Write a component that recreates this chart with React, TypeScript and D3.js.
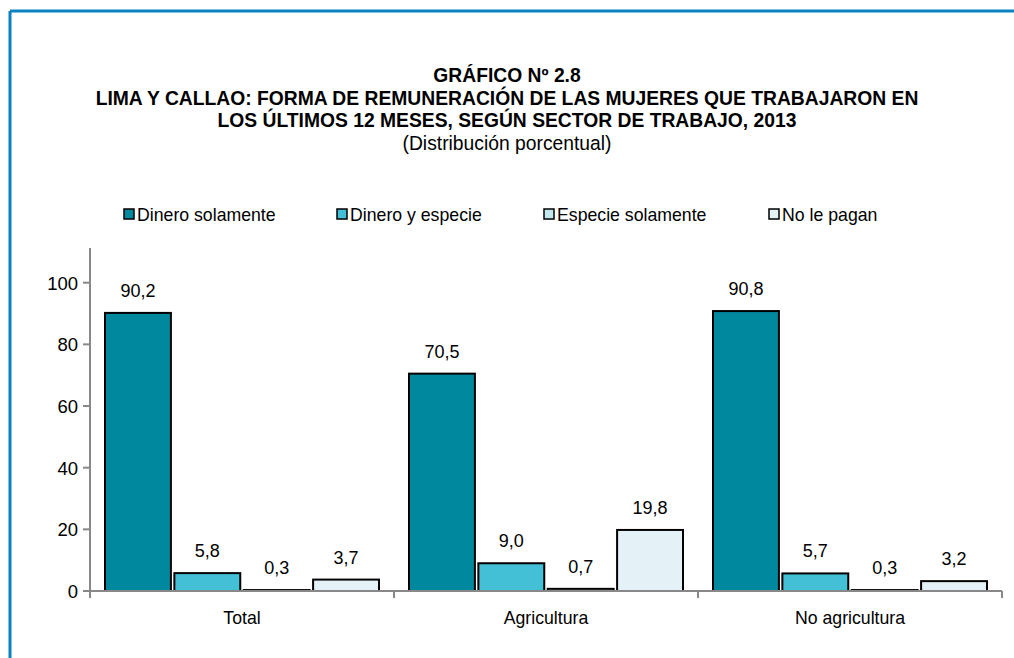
import React from "react";
import * as d3 from "d3";

const categories = ["Total", "Agricultura", "No agricultura"];
const seriesNames = ["Dinero solamente", "Dinero y especie", "Especie solamente", "No le pagan"];
const dineroSolamente = [90.2, 70.5, 90.8];
const dineroYEspecie = [5.8, 9.0, 5.7];
const especieSolamente = [0.3, 0.7, 0.3];
const noLePagan = [3.7, 19.8, 3.2];
const yTicks = [0, 20, 40, 60, 80, 100];
const colors = ["#00889E", "#43BFD6", "#C4E8F0", "#E4F2F8"];
const titleLines = [
  "GRÁFICO Nº 2.8",
  "LIMA Y CALLAO: FORMA DE REMUNERACIÓN DE LAS MUJERES QUE TRABAJARON EN",
  "LOS ÚLTIMOS 12 MESES, SEGÚN SECTOR DE TRABAJO, 2013",
];
const subtitle = "(Distribución porcentual)";

const seriesValues = [dineroSolamente, dineroYEspecie, especieSolamente, noLePagan];
const FONT = "'Liberation Sans', Arial, sans-serif";

export default function App() {
  const W = 1014, H = 658;
  const x0 = d3.scaleBand().domain(categories).range([90, 1002]).paddingInner(0).paddingOuter(0);
  const x1 = d3.scaleBand().domain(seriesNames).range([15, x0.bandwidth() - 15]).paddingInner(0.05).paddingOuter(0);
  const y = d3.scaleLinear().domain([0, 100]).range([591, 282.7]);
  const fmt = (v: number) => v.toFixed(1).replace(".", ",");
  const legendX = [124, 337, 544, 769];
  const legendY = 214;

  return (
    <svg width={W} height={H} style={{ position: "absolute", left: 0, top: 0, background: "#fff" }} fontFamily={FONT}>
      <rect x={0} y={0} width={W} height={H} fill="#fff" />
      {/* frame */}
      <line x1={10} y1={11} x2={W} y2={11} stroke="#0A82C0" strokeWidth={3} />
      <line x1={10} y1={11} x2={10} y2={H} stroke="#0A82C0" strokeWidth={3} />

      {/* titles */}
      {titleLines.map((t, i) => (
        <text key={i} x={507} y={82 + i * 22.5} textAnchor="middle" fontWeight="bold" fontSize={19.3} fill="#000">{t}</text>
      ))}
      <text x={507} y={149.5} textAnchor="middle" fontSize={19.3} fill="#000">{subtitle}</text>

      {/* legend */}
      {seriesNames.map((s, i) => (
        <g key={s}>
          <rect x={legendX[i]} y={legendY - 5} width={10} height={10} fill={colors[i]} stroke="#000" strokeWidth={1.5} />
          <text x={legendX[i] + 13} y={legendY + 6.5} fontSize={17.7} fill="#000">{s}</text>
        </g>
      ))}

      {/* y axis */}
      <line x1={90} x2={90} y1={248} y2={591} stroke="#888" strokeWidth={2} />
      {yTicks.map((t) => (
        <g key={t}>
          <line x1={83} x2={90} y1={y(t)} y2={y(t)} stroke="#888" strokeWidth={2} />
          <text x={78} y={y(t) + 7} textAnchor="end" fontSize={18.5} fill="#000">{t}</text>
        </g>
      ))}

      {/* bars */}
      {categories.map((c, ci) => (
        <g key={c} transform={`translate(${x0(c)},0)`}>
          {seriesNames.map((s, si) => {
            const v = seriesValues[si][ci];
            const bx = x1(s)!;
            return (
              <g key={s}>
                <rect x={bx} y={y(v)} width={x1.bandwidth()} height={y(0) - y(v)} fill={colors[si]} stroke="#000" strokeWidth={2} />
                <text x={bx + x1.bandwidth() / 2} y={y(v) - 16} textAnchor="middle" fontSize={18} fill="#000">{fmt(v)}</text>
              </g>
            );
          })}
        </g>
      ))}

      {/* x axis */}
      <line x1={90} x2={1002} y1={591} y2={591} stroke="#888" strokeWidth={2} />
      {[...categories.map((c) => x0(c)!), 1002].map((t, i) => (
        <line key={i} x1={t} x2={t} y1={591} y2={598} stroke="#888" strokeWidth={2} />
      ))}
      {categories.map((c) => (
        <text key={c} x={x0(c)! + x0.bandwidth() / 2} y={624} textAnchor="middle" fontSize={17.7} fill="#000">{c}</text>
      ))}
    </svg>
  );
}
